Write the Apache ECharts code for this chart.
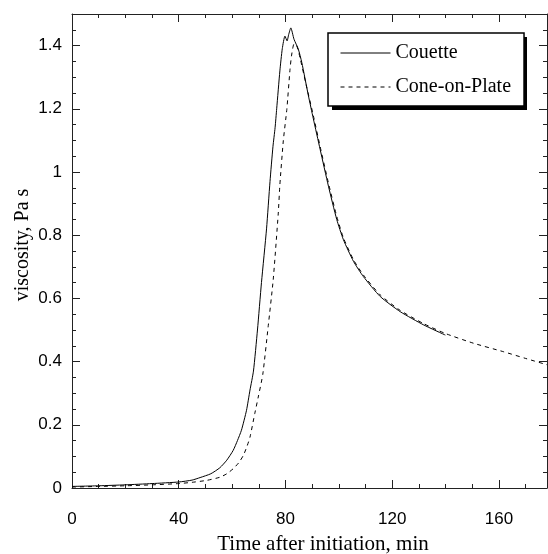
<!DOCTYPE html>
<html>
<head>
<meta charset="utf-8">
<script src="https://cdn.jsdelivr.net/npm/echarts@6/dist/echarts.min.js"></script>
<style>
  html, body { margin: 0; padding: 0; background: #fff; }
  #main { width: 548px; height: 554px; }
</style>
</head>
<body>
<div id="main"></div>
<script>
// Couette viscometer (solid line)
const couetteTime = [0, 10, 20, 30, 40, 45, 48, 52, 55.4, 58, 60.4, 62, 63.5, 65.4, 66.7, 68,
  69.5, 71, 72.9, 74.2, 75.3, 76.1, 76.7, 77.9, 78.8, 79.8, 80.6, 81.2, 82, 83.2, 84.8, 86.1,
  88.6, 90.4, 93, 96.1, 99.2, 101.7, 105.5, 109.2, 115.5, 123, 131.8, 139.9]
const couetteVisc = [0.005, 0.007, 0.010, 0.014, 0.019, 0.025, 0.033, 0.045, 0.064, 0.088, 0.119, 0.15, 0.183, 0.246, 0.31, 0.37,
  0.50, 0.65, 0.82, 0.97, 1.08, 1.14, 1.20, 1.32, 1.39, 1.43, 1.415, 1.435, 1.456, 1.42, 1.389, 1.347,
  1.241, 1.17, 1.071, 0.955, 0.85, 0.786, 0.717, 0.669, 0.606, 0.558, 0.516, 0.484]

// cone-on-plate (dashed line)
const coneTime = [0, 10, 20, 30, 40, 45, 50.4, 55.4, 58, 60.4, 62.5, 64.2, 65.5, 66.7, 68.5, 69.8,
  71.5, 73.5, 75.4, 77.3, 77.9, 79.2, 80.5, 81.7, 82.3, 83.2, 84.2, 85.5, 87.5, 90.4, 93, 96.1,
  99.2, 101.7, 105.5, 109.2, 115.5, 123, 131.8, 139.9, 150.5, 161.8, 170, 178]
const coneVisc = [0.003, 0.005, 0.007, 0.010, 0.014, 0.018, 0.024, 0.034, 0.045, 0.061, 0.08, 0.103, 0.13, 0.161, 0.236, 0.288,
  0.36, 0.51, 0.659, 0.87, 0.96, 1.10, 1.198, 1.325, 1.37, 1.405, 1.40, 1.36, 1.285, 1.18, 1.08, 0.965,
  0.86, 0.792, 0.722, 0.674, 0.611, 0.562, 0.52, 0.489, 0.458, 0.431, 0.41, 0.39]

const xTicks = [0, 40, 80, 120, 160]
const yTicks = [0, 0.2, 0.4, 0.6, 0.8, 1, 1.2, 1.4]

const zip = (xs, ys) => xs.map((x, i) => [x, ys[i]])

const chart = echarts.init(document.getElementById('main'))

const axisCol = '#222'
// ticks point into the plot (negative length flips them)
const majorTick = { show: true, length: -8, lineStyle: { color: axisCol, width: 1 } }
const minorTick = { show: true, splitNumber: 4, length: -4, lineStyle: { color: axisCol, width: 1 } }
const axisLine = { show: true, onZero: false, lineStyle: { color: axisCol, width: 1 } }

const option = {
  animation: false,
  backgroundColor: '#fff',
  grid: { left: 72, right: 1, top: 14, bottom: 66, containLabel: false, outerBoundsMode: 'none' },
  graphic: [{
    // legend drop shadow
    type: 'rect', z: 3, silent: true,
    shape: { x: 332, y: 37, width: 195, height: 73 },
    style: { fill: '#000' }
  }],
  legend: {
    orient: 'vertical',
    left: 328,
    top: 33,
    z: 5,
    padding: [10, 13, 9, 12],
    itemGap: 14,
    itemWidth: 50,
    itemHeight: 14,
    backgroundColor: '#fff',
    borderColor: '#000',
    borderWidth: 1.5,
    itemStyle: { opacity: 0 },
    lineStyle: { width: 1 },
    textStyle: { fontFamily: 'Liberation Serif', fontSize: 20, color: '#000', lineHeight: 20 },
    data: ['Couette', 'Cone-on-Plate']
  },
  xAxis: [{
    type: 'value', min: 0, max: 178, interval: 40,
    name: 'Time after initiation, min',
    nameLocation: 'middle', nameGap: 46, nameMoveOverlap: false,
    nameTextStyle: { fontFamily: 'Liberation Serif', fontSize: 21, color: '#000', padding: [0, 0, 0, 27] },
    axisLine,
    axisTick: majorTick,
    minorTick,
    axisLabel: {
      margin: 23, fontFamily: 'Liberation Sans', fontSize: 17, color: '#000',
      showMaxLabel: false,
      formatter: v => xTicks.includes(v) ? String(v) : ''
    },
    splitLine: { show: false }
  }, {
    type: 'value', min: 0, max: 178, interval: 40, position: 'top',
    axisLine,
    axisTick: majorTick,
    minorTick,
    axisLabel: { show: false },
    splitLine: { show: false }
  }],
  yAxis: [{
    type: 'value', min: 0, max: 1.5, interval: 0.2,
    name: 'viscosity, Pa s',
    nameLocation: 'middle', nameGap: 39, nameMoveOverlap: false,
    nameTextStyle: { fontFamily: 'Liberation Serif', fontSize: 20, color: '#000', padding: [0, 0, 0, 12] },
    axisLine,
    axisTick: majorTick,
    minorTick,
    axisLabel: {
      margin: 10, fontFamily: 'Liberation Sans', fontSize: 17, color: '#000',
      showMaxLabel: false,
      formatter: v => yTicks.some(t => Math.abs(t - v) < 1e-9) ? String(+v.toFixed(1)) : ''
    },
    splitLine: { show: false }
  }, {
    type: 'value', min: 0, max: 1.5, interval: 0.2, position: 'right',
    axisLine,
    axisTick: majorTick,
    minorTick,
    axisLabel: { show: false },
    splitLine: { show: false }
  }],
  series: [{
    name: 'Couette',
    type: 'line',
    symbol: 'none',
    smooth: 0.2,
    data: zip(couetteTime, couetteVisc),
    lineStyle: { color: '#000', width: 1 },
    itemStyle: { color: '#000' }
  }, {
    name: 'Cone-on-Plate',
    type: 'line',
    symbol: 'none',
    smooth: 0.2,
    data: zip(coneTime, coneVisc),
    lineStyle: { color: '#000', width: 1, type: [4, 4] },
    itemStyle: { color: '#000' }
  }]
}

chart.setOption(option)
</script>
</body>
</html>
